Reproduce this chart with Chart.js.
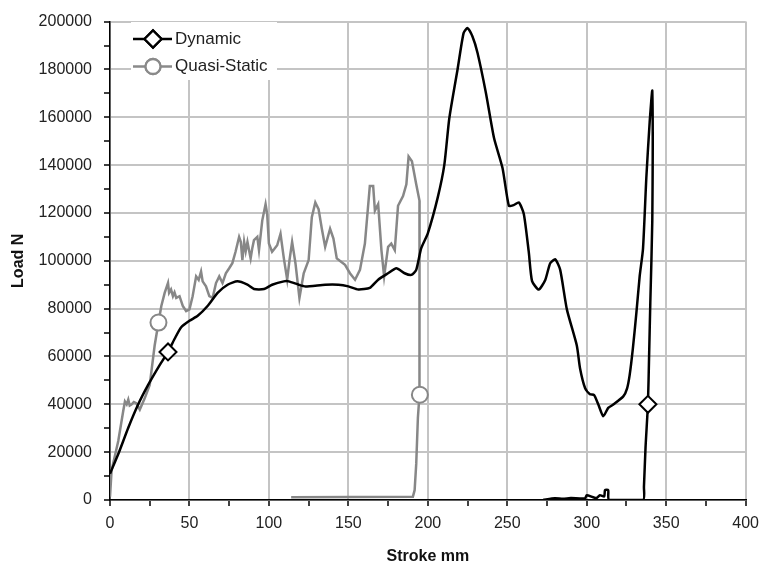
<!DOCTYPE html>
<html>
<head>
<meta charset="utf-8">
<script src="https://cdn.jsdelivr.net/npm/chart.js@4.4.1/dist/chart.umd.min.js"></script>
<style>
body{margin:0;background:#fff;}
#wrap{width:767px;height:570px;}
</style>
</head>
<body>
<div id="wrap"><canvas id="loadChart" width="767" height="570"></canvas></div>
<script>
// stroke (mm) / load (N) for the dynamic crush test
const dynStroke=[0,5.2,11.5,17.7,24,31.25,36.5,40.6,44.8,50,55.2,61.4,67.7,74,80.2,86.5,90.6,96.9,102,109.4,112.5,118.75,123,135.4,143.75,150,156.25,163.5,168.75,175,180.2,185.4,189.6,192.7,195.8,200,206.25,210.4,213.5,218.75,222.5,225,228.1,231.25,236.5,241.7,247,251,254,257.3,260.4,263.5,265.6,269.8,273.9,277,280.2,283.3,287.5,293.75,295.8,299,302,304.6,307.3,310.4,313.5,316.7,323,325.4,327,329,331.25,333.3,335.4,337.5,339.6,341.25,341.25,340,339.2,338.5,337,336,335.5,314,313.5,311.5,311,308.3,306,300,299,290,285,280,272.5];
const dynLoad=[11000,19200,30200,39900,48100,56400,61900,67300,72200,74900,77000,81100,86600,90000,91400,90000,88200,88200,90000,91400,91400,90000,89300,90000,90000,89300,88000,88700,92100,94800,96900,94800,94100,96200,105200,111500,126500,140200,159500,180200,195200,197300,193800,187000,170400,151200,138800,123000,123300,124400,119600,103800,91500,88000,92000,99000,100600,96200,79700,64600,55000,46700,44200,43900,39900,35000,38500,39900,43300,46700,52200,63200,78300,93500,105000,134700,158000,171000,116800,82500,59000,40000,22000,5500,0,0,4100,4100,1500,2000,800,2000,700,800,500,700,0];
const dynMarkers=[36.5,338.5];

// quasi-static test
const qsStroke=[0,1,5.2,8.3,9.4,10.5,11.5,12.4,13.5,15,16.5,18.75,21.9,25,28.1,30.5,32.3,34.4,36.5,37.2,38.4,39.6,40.6,41.7,43.75,45.8,47.9,50,52,54.2,55.8,57.3,58.3,60.4,62.5,64.6,66.7,68.75,70.8,72.9,75,77,79,81.25,82.3,83.3,84.4,85.4,86.5,88.5,89.6,90.6,92.7,93.75,95.8,97.9,98.9,100,102,103.5,105.2,107.3,109.4,111.5,113,114.6,116.7,119.2,121.9,125,127,129.2,131.25,133.3,135.4,138.5,140.6,142.7,145,147.9,151,154.2,157.3,160.4,163.5,165.6,166.7,168.75,170.8,172.5,175,177,179.2,181.25,184.4,186.5,187.9,190,192.7,194.8,194.5,195,193.75,192.7,191.7,190.6,114];
const qsLoad=[1400,12400,24700,37100,41200,40000,42000,39500,39900,41000,40500,37800,42600,48100,64600,74200,81100,86600,90700,86600,88000,85200,86800,84500,85200,81100,79000,79700,85200,93500,92000,95500,91400,89300,85200,84500,90700,93500,90700,94800,96900,99000,103800,110000,108000,100300,108000,104000,107900,101000,105500,108600,110000,104500,116800,123700,119600,107200,103800,105000,106500,111300,101000,92100,100500,107900,99000,84500,94800,100300,118200,124400,121600,113400,105800,113400,109300,101000,99800,98300,94800,92100,96200,107200,131300,131300,121000,123700,104500,93500,105800,107200,104500,123000,127100,132000,143600,141600,132000,125000,60000,44000,34400,15100,4100,1400,1200];
const qsMarkers=[30.5,195];

const xTicksMajor=50;
const yTicksMajor=20000;

const FONT="'Liberation Sans', Arial, sans-serif";

function pts(xs,ys){
return xs.map((x,i)=>({x:x,y:ys[i]}));
}

// legend drawn inside the plot, top left, on a white box
const plotLegend={
id:'plotLegend',
afterDatasetsDraw(chart){
const c=chart.ctx;
c.save();
c.fillStyle='#fff';
c.fillRect(131,22,146,58);
const rows=[
{y:39,color:'#000',label:'Dynamic',style:'rectRot',r:8.5},
{y:66.5,color:'#8a8a8a',label:'Quasi-Static',style:'circle',r:7.5}
];
rows.forEach(row=>{
c.strokeStyle=row.color;
c.lineWidth=2.3;
c.beginPath();
c.moveTo(133,row.y);
c.lineTo(172,row.y);
c.stroke();
c.fillStyle='#fff';
Chart.helpers.drawPoint(c,{pointStyle:row.style,radius:row.r,borderWidth:2,rotation:0},153,row.y);
c.fill();
c.stroke();
c.fillStyle='#222';
c.font='17px '+FONT;
c.textBaseline='middle';
c.textAlign='left';
c.fillText(row.label,175,row.y);
});
c.restore();
}
};

new Chart(document.getElementById("loadChart"),{
type:'line',
data:{
datasets:[{
label:'Dynamic',
data:pts(dynStroke,dynLoad),
borderColor:'#000',
borderWidth:2.5,
tension:0.2,
pointStyle:'rectRot',
pointRadius:ctx=>dynMarkers.includes(ctx.raw.x)?8.5:0,
pointBackgroundColor:'#fff',
pointBorderColor:'#000',
pointBorderWidth:2
},{
label:'Quasi-Static',
data:pts(qsStroke,qsLoad),
borderColor:'#878787',
borderWidth:2.5,
tension:0,
pointStyle:'circle',
pointRadius:ctx=>qsMarkers.includes(ctx.raw.x)?8:0,
pointBackgroundColor:'#fff',
pointBorderColor:'#878787',
pointBorderWidth:2
}]
},
options:{
responsive:false,
animation:false,
layout:{padding:{left:0,top:15,right:17,bottom:0}},
plugins:{legend:{display:false},tooltip:{enabled:false}},
scales:{
x:{
type:'linear',
min:0,max:400,
afterFit(scale){scale.height=70;},
ticks:{stepSize:25,autoSkip:false,maxRotation:0,padding:8,color:'#222',font:{family:FONT,size:16},
callback:v=>v%xTicksMajor===0?String(v):''},
grid:{color:ctx=>ctx.tick&&ctx.tick.value%xTicksMajor===0?'#c4c4c4':'rgba(0,0,0,0)',lineWidth:2,tickColor:'#000',tickLength:6,tickWidth:1.5},
border:{color:'#000',width:1.5},
title:{display:true,text:'Stroke mm',color:'#111',font:{family:FONT,size:16,weight:'bold'},padding:{top:0,bottom:4}}
},
y:{
min:0,max:200000,
afterFit(scale){scale.width=110;},
ticks:{stepSize:10000,autoSkip:false,padding:12,color:'#222',font:{family:FONT,size:16},
callback:v=>v%yTicksMajor===0?String(v):''},
grid:{color:ctx=>ctx.tick&&ctx.tick.value%yTicksMajor===0?'#c4c4c4':'rgba(0,0,0,0)',lineWidth:2,tickColor:'#000',tickLength:6,tickWidth:1.5},
border:{color:'#000',width:1.5},
title:{display:true,text:'Load N',color:'#111',font:{family:FONT,size:16,weight:'bold'},padding:{top:9,bottom:0}}
}
}
},
plugins:[plotLegend]
});
</script>
</body>
</html>
